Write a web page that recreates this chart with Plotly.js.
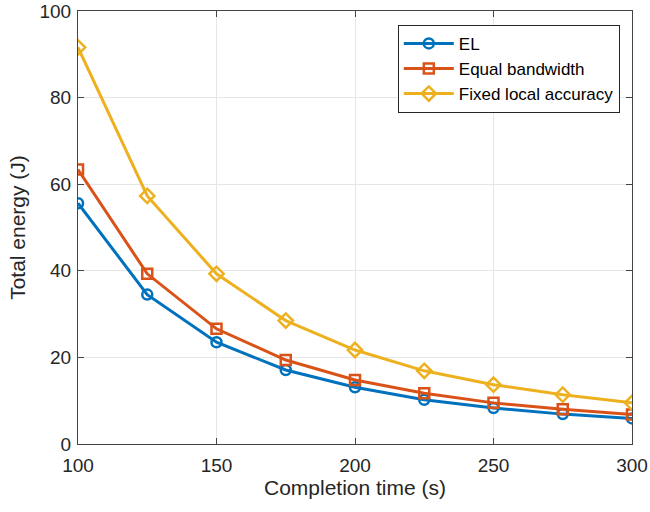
<!DOCTYPE html>
<html>
<head>
<meta charset="utf-8">
<script src="https://cdn.plot.ly/plotly-3.0.1.min.js"></script>
<style>html,body{margin:0;padding:0;background:#fff;}#chart{width:650px;height:512px;}</style>
</head>
<body>
<div id="chart"></div>
<script>
const completionTime = [100, 125, 150, 175, 200, 225, 250, 275, 300];
const energyEL = [55.6, 34.5, 23.5, 17.1, 13.1, 10.2, 8.3, 6.9, 5.9];
const energyEqualBandwidth = [63.4, 39.3, 26.6, 19.4, 14.8, 11.7, 9.5, 8.0, 6.8];
const energyFixedLocalAccuracy = [91.6, 57.3, 39.3, 28.5, 21.7, 16.9, 13.7, 11.4, 9.5];
const seriesNames = ["EL", "Equal bandwidth", "Fixed local accuracy"];
const xTickVals = [100, 150, 200, 250, 300];
const yTickVals = [0, 20, 40, 60, 80, 100];

const colors = ["#0072BD", "#D95319", "#EDB120"];
const symbols = ["circle-open", "square-open", "diamond-open"];
const allY = [energyEL, energyEqualBandwidth, energyFixedLocalAccuracy];

const traces = allY.map((y, i) => ({
  x: completionTime,
  y: y,
  name: seriesNames[i],
  type: "scatter",
  mode: "lines+markers",
  line: {color: colors[i], width: 3},
  marker: {symbol: symbols[i], size: i === 2 ? 11 : 10, color: colors[i], line: {color: colors[i], width: 2.5}}
}));

const font = "Arial, 'Liberation Sans', Helvetica, sans-serif";
const axisCommon = {
  showline: true, mirror: "ticks", linecolor: "#444", linewidth: 1,
  ticks: "inside", ticklen: 6, tickcolor: "#444",
  showgrid: true, gridcolor: "#e6e6e6", gridwidth: 1,
  zeroline: false,
  tickfont: {family: font, size: 19, color: "#262626"}
};

const layout = {
  width: 650, height: 512,
  margin: {l: 78, r: 18, t: 11, b: 68},
  paper_bgcolor: "#fff", plot_bgcolor: "#fff",
  showlegend: true,
  legend: {
    x: 0.978, y: 0.968, xanchor: "right", yanchor: "top",
    bgcolor: "#fff", bordercolor: "#262626", borderwidth: 1,
    font: {family: font, size: 17, color: "#000"},
    itemwidth: 50,
    tracegroupgap: 0
  },
  xaxis: Object.assign({}, axisCommon, {
    range: [100, 300], tickvals: xTickVals,
    ticklabelstandoff: 4,
    title: {text: "Completion time (s)", font: {family: font, size: 21, color: "#262626"}, standoff: 5}
  }),
  yaxis: Object.assign({}, axisCommon, {
    range: [0, 100], tickvals: yTickVals,
    ticklabelstandoff: 2,
    title: {text: "Total energy (J)", font: {family: font, size: 21, color: "#262626"}, standoff: 8}
  })
};

Plotly.newPlot("chart", traces, layout, {displayModeBar: false, staticPlot: true});
</script>
</body>
</html>
